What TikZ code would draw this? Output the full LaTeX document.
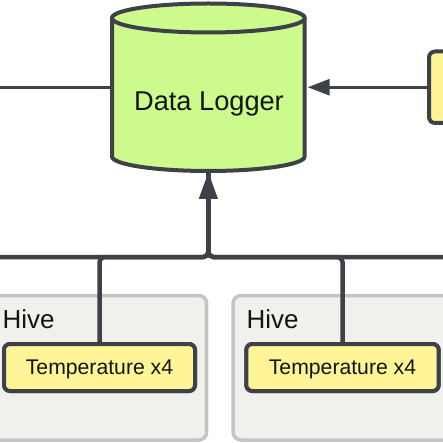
\documentclass[tikz,border=0pt]{standalone}
\usepackage{fontspec}
\setmainfont{Liberation Sans}
\usetikzlibrary{arrows.meta}
\definecolor{edgegray}{RGB}{62,66,72}
\definecolor{dlgreen}{RGB}{205,250,140}
\definecolor{tyellow}{RGB}{255,245,150}
\definecolor{hivefill}{RGB}{240,240,237}
\definecolor{hiveborder}{RGB}{195,197,195}
\definecolor{txt}{RGB}{20,20,20}
\begin{document}
\begin{tikzpicture}[x=1pt,y=-1pt,
  hivebox/.style={draw=hiveborder, line width=3.5pt, fill=hivefill, rounded corners=8pt, inner sep=0pt, outer sep=0pt},
  hivelabel/.style={anchor=base west, inner sep=0pt, text=txt, font=\fontsize{26}{30}\selectfont},
  sensor/.style={draw=edgegray, line width=4pt, fill=tyellow, rounded corners=6pt, minimum width=191pt, minimum height=47pt, inner sep=0pt, outer sep=0pt, text depth=0pt, text=txt, font=\fontsize{21.2}{24}\selectfont},
  cyl/.style={draw=edgegray, line width=4pt, fill=dlgreen},
  link/.style={draw=edgegray, line width=3pt},
  bus/.style={draw=edgegray, line width=4.5pt, rounded corners=5pt},
  bigtip/.style={-{Triangle[length=27pt,width=18pt]}, shorten >=1pt},
  sidetip/.style={-{Triangle[length=22pt,width=16pt]}, shorten >=3pt}
]
\useasboundingbox (0,0) rectangle (443,443);
\clip (0,0) rectangle (443,443);

% hive containers
\node[hivebox, minimum width=226.7pt, minimum height=144.5pt] (H1) at (93.35,367.75) {};
\node[hivebox, minimum width=237pt, minimum height=144.5pt] (H2) at (351.5,367.75) {};
\node[hivelabel] (H1l) at (2.5,328) {Hive};
\node[hivelabel] (H2l) at (246.5,328) {Hive};

% data logger cylinder
\filldraw[cyl] (112,18) -- (112,156.5) arc[start angle=180, end angle=0, x radius=96.35, y radius=14.5] -- (304.7,18);
\filldraw[cyl] (208.35,18) ellipse[x radius=96.35, y radius=14.5];
\node[minimum width=192.7pt, minimum height=167.5pt, inner sep=0pt, outer sep=0pt] (DL) at (208.35,87.25) {};
\node[anchor=base, inner sep=0pt, text=txt, font=\fontsize{27.2}{30}\selectfont] (DLt) at (209,110.7) {Data Logger};

% right box
\node[draw=edgegray, line width=4pt, fill=tyellow, rounded corners=6pt, minimum width=60pt, minimum height=71.5pt, inner sep=0pt, outer sep=0pt] (RB) at (459,87.25) {};

% sensors
\node[sensor] (T1) at (99.5,367.5) {Temperature x4};
\node[sensor, minimum width=192.4pt] (T2) at (342.5,367.5) {Temperature x4};

% connectors
\coordinate (LL) at (-10,87.25);
\coordinate (J) at (208.35,257);
\coordinate (BL) at (-10,257);
\coordinate (BR) at (453,257);
\draw[link] (LL) -- (DL.west);
\draw[link, sidetip] (RB.west) -- (DL.east);
\draw[bus] (BL) -- (J) -- (DL.south);
\draw[bus] (BR) -- (J) -- (DL.south);
\draw[bus] (T2.north) |- (J) -- (DL.south);
\draw[bus, bigtip] (T1.north) |- (J) -- (DL.south);

% redraw sensors on top
\node[sensor] at (T1) {Temperature x4};
\node[sensor, minimum width=192.4pt] at (T2) {Temperature x4};
\end{tikzpicture}
\end{document}
